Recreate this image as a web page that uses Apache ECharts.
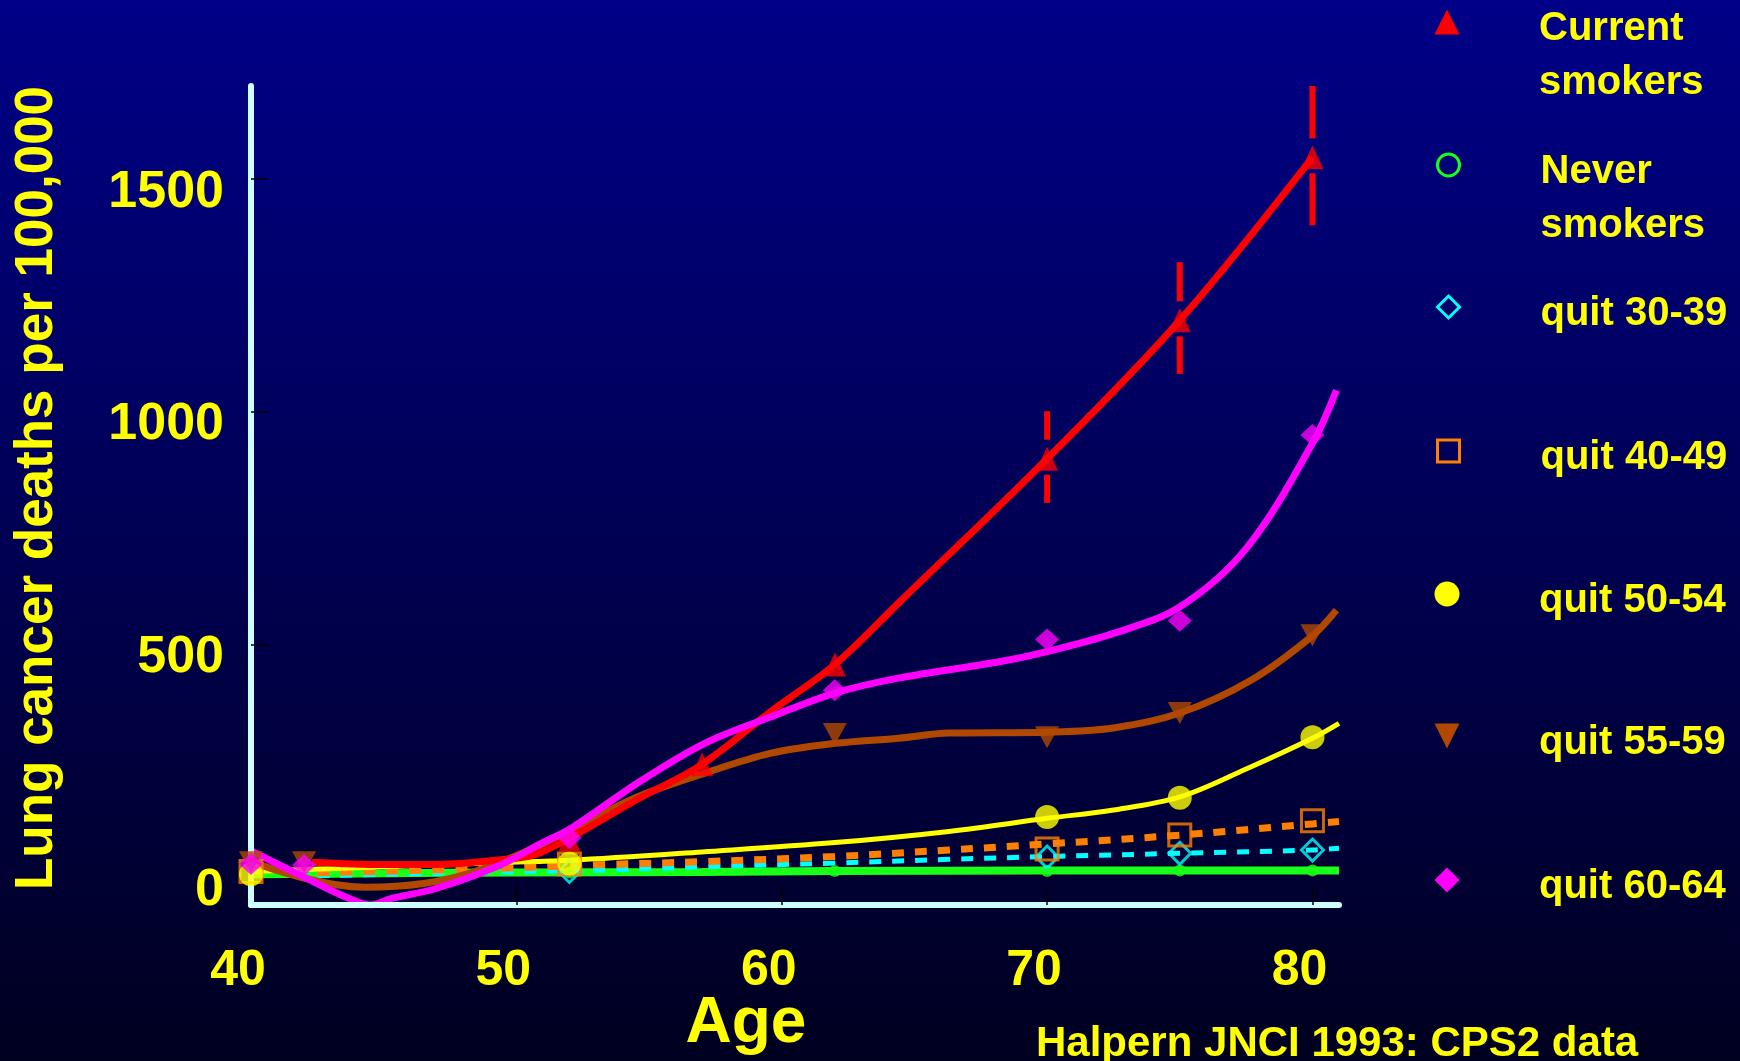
<!DOCTYPE html>
<html>
<head>
<meta charset="utf-8">
<title>Lung cancer deaths per 100,000 by age</title>
<script src="https://cdn.jsdelivr.net/npm/echarts@6.0.0/dist/echarts.min.js"></script>
<style>
    html, body { margin: 0; padding: 0; background: #000040; }
    #main { width: 1740px; height: 1061px; }
</style>
</head>
<body>
<div id="main"></div>
<script>
// axis ticks
const ageTicks = [40, 50, 60, 70, 80];
const rateTicks = [0, 500, 1000, 1500];

const groupNames = ['Current\nsmokers', 'Never\nsmokers', 'quit 30-39', 'quit 40-49', 'quit 50-54', 'quit 55-59', 'quit 60-64'];

// observed rates (markers)
const currentAges = [52, 57, 62, 70, 75, 80];
const currentRates = [82, 244, 458, 900, 1197, 1547];
const neverAges = [52, 62, 70, 75, 80];
const neverRates = [12, 15, 15, 16, 16];
const quit3039Ages = [52, 70, 75, 80];
const quit3039Rates = [14, 45, 53, 60];
const quit4049Ages = [40, 52, 70, 75, 80];
const quit4049Rates = [14, 30, 62, 92, 123];
const quit5054Ages = [40, 52, 70, 75, 80];
const quit5054Rates = [8, 31, 131, 172, 302];
const quit5559Ages = [40, 42, 62, 70, 75, 80];
const quit5559Rates = [34, 34, 309, 302, 354, 521];
const quit6064Ages = [40, 42, 52, 62, 70, 75, 80];
const quit6064Rates = [30, 28, 86, 403, 512, 552, 951];

// error bars, current smokers
const errAges = [70, 75, 80];
const errLow = [805, 1082, 1401];
const errHigh = [1002, 1322, 1700];

// fitted curves
const currentFitAges = [42.3, 45, 47, 49.4, 50.9, 54.6, 57, 59.6, 62, 64.4, 70, 75, 80];
const currentFitRates = [34, 29, 29, 39, 54, 170, 244, 358, 458, 590, 900, 1197, 1547];
const neverFitAges = [40, 45, 50, 57, 62, 70, 81];
const neverFitRates = [8, 10, 12, 13, 15, 16, 16];
const quit3039FitAges = [42.5, 49.4, 53.4, 57, 62, 66.3, 70, 75, 80, 81];
const quit3039FitRates = [5, 13, 17, 24, 32, 40, 46, 53, 60, 64];
const quit4049FitAges = [42.5, 49.4, 53.4, 57, 62, 66.3, 70, 75, 80, 81];
const quit4049FitRates = [11, 21, 29, 35, 46, 60, 73, 92, 116, 121];
const quit5054FitAges = [40, 42, 45, 49.4, 52, 57, 62, 66.3, 70, 72.5, 75, 77.5, 80, 81];
const quit5054FitRates = [14, 18, 24, 33, 38, 56, 76, 100, 128, 146, 174, 234, 300, 332];
const quit5559FitAges = [40, 42, 44.3, 46.5, 48.5, 50.5, 52.1, 54.6, 57.1, 59.6, 62, 64.4, 66.3, 70, 72.5, 75, 77.7, 80, 80.9];
const quit5559FitRates = [35, 0, -20, -12, 15, 60, 105, 175, 225, 268, 289, 300, 311, 313, 322, 354, 425, 520, 575];
const quit6064FitAges = [40, 42, 43.7, 44.5, 45.3, 47, 49.4, 50.9, 52.1, 54.6, 57.1, 59.6, 62, 64.4, 68.2, 70, 72.5, 75, 77.5, 80, 80.9];
const quit6064FitRates = [58, 2, -44, -58, -44, -22, 28, 73, 108, 205, 289, 346, 397, 429, 464, 486, 525, 582, 707, 933, 1047];

const markerAges = [currentAges, neverAges, quit3039Ages, quit4049Ages, quit5054Ages, quit5559Ages, quit6064Ages];
const markerRates = [currentRates, neverRates, quit3039Rates, quit4049Rates, quit5054Rates, quit5559Rates, quit6064Rates];
const fitAges = [currentFitAges, neverFitAges, quit3039FitAges, quit4049FitAges, quit5054FitAges, quit5559FitAges, quit6064FitAges];
const fitRates = [currentFitRates, neverFitRates, quit3039FitRates, quit4049FitRates, quit5054FitRates, quit5559FitRates, quit6064FitRates];

const yellow = '#ffff00';
const font = 'Liberation Sans, Arial, sans-serif';

const groupStyles = [
    { color: '#ff0000', width: 7, dash: 'solid', symbol: 'triangle', size: [22, 24], icon: 'triangle' },
    { color: '#18ff18', width: 8, dash: 'solid', symbol: 'circle', size: 12, icon: 'circle', hollowIcon: true },
    { color: '#00ffff', width: 5, dash: [12, 11], symbol: 'diamond', size: [22, 22], hollow: true, icon: 'diamond', hollowIcon: true },
    { color: '#ff8000', width: 7, dash: [12, 11], symbol: 'rect', size: [22, 22], hollow: true, icon: 'rect', hollowIcon: true },
    { color: '#ffff00', width: 5, dash: 'solid', symbol: 'circle', size: 24, icon: 'circle' },
    { color: '#b04800', width: 7, dash: 'solid', symbol: 'triangle', size: [24, 22], rotate: 180, icon: 'path://M0,0L20,0L10,20Z' },
    { color: '#ff00ff', width: 7, dash: 'solid', symbol: 'diamond', size: [24, 22], icon: 'diamond' }
];

// drawing order of the curves, bottom to top
const drawOrder = [1, 2, 3, 4, 5, 0, 6];

// legend rows
const legendIconY = [22, 165, 307, 451, 594, 736, 880];
const legendIconX = 1447;
const legendTextX = 1539;
const legendLineHeight = 54;

function zip (xs, ys) {
    return xs.map(function (x, i) {
        return [x, ys[i]];
    });
}

let series = [];
drawOrder.forEach(function (i) {
    let st = groupStyles[i];
    series.push({
        type: 'line',
        name: groupNames[i],
        data: zip(fitAges[i], fitRates[i]),
        smooth: 0.35,
        symbol: 'none',
        z: 2,
        silent: true,
        lineStyle: { color: st.color, width: st.width, type: st.dash, cap: 'butt' },
        itemStyle: { color: st.color }
    });
});

series.push({
    type: 'custom',
    name: groupNames[0],
    z: 4,
    encode: { x: 0, y: [1, 3] },
    data: errAges.map(function (a, i) {
        return [a, errLow[i], currentRates[currentAges.indexOf(a)], errHigh[i]];
    }),
    renderItem: function (params, api) {
        let mid = api.coord([api.value(0), api.value(2)]);
        let lo = api.coord([api.value(0), api.value(1)]);
        let hi = api.coord([api.value(0), api.value(3)]);
        let style = { stroke: '#ff0000', lineWidth: 6 };
        return {
            type: 'group',
            children: [
                { type: 'line', shape: { x1: mid[0], y1: hi[1], x2: mid[0], y2: mid[1] - 19 }, style: style },
                { type: 'line', shape: { x1: mid[0], y1: mid[1] + 16, x2: mid[0], y2: lo[1] }, style: style }
            ]
        };
    }
});

drawOrder.forEach(function (i) {
    let st = groupStyles[i];
    series.push({
        type: 'scatter',
        name: groupNames[i],
        data: zip(markerAges[i], markerRates[i]),
        symbol: st.symbol,
        symbolSize: st.size,
        symbolRotate: st.rotate || 0,
        clip: false,
        z: 4,
        itemStyle: {
            color: st.hollow ? 'rgba(0,0,0,0)' : st.color,
            borderColor: st.color,
            borderWidth: st.hollow ? 3 : 0
        }
    });
});

// rich text so the top padding pushes the words below the icon
let legendText = { color: yellow, fontSize: 40, fontWeight: 'bold', fontFamily: font, lineHeight: legendLineHeight };

let legends = groupNames.map(function (name, i) {
    let st = groupStyles[i];
    let lines = name.split('\n').length;
    let iconSize = st.hollowIcon ? 22 : 25;
    let padTop = lines === 1 ? 13 : 67;
    let boxHeight = lines * legendLineHeight + padTop;
    return {
        data: [{
            name: name,
            icon: st.icon,
            itemStyle: {
                color: st.hollowIcon ? 'rgba(0,0,0,0)' : st.color,
                borderColor: st.color,
                borderWidth: st.hollowIcon ? 3 : 0
            }
        }],
        orient: 'vertical',
        align: 'left',
        left: legendIconX - iconSize / 2,
        top: legendIconY[i] - boxHeight / 2,
        padding: 0,
        itemWidth: iconSize,
        itemHeight: iconSize,
        formatter: function (n) {
            return n.split('\n').map(function (s) {
                return '{t|' + s + '}';
            }).join('\n');
        },
        textStyle: Object.assign({}, legendText, {
            padding: [padTop, 0, 0, legendTextX - (legendIconX + iconSize / 2) - 5],
            rich: { t: legendText }
        })
    };
});

let myChart = echarts.init(document.getElementById('main'));
myChart.setOption({
    animation: false,
    backgroundColor: {
        type: 'linear', x: 0, y: 0, x2: 0, y2: 1,
        colorStops: [{ offset: 0, color: '#000088' }, { offset: 1, color: '#000020' }]
    },
    title: {
        text: 'Halpern JNCI 1993: CPS2 data',
        left: 1036,
        top: 1023,
        padding: 0,
        textStyle: { color: yellow, fontSize: 42, fontWeight: 'bold', fontFamily: font, lineHeight: 42 }
    },
    legend: legends,
    grid: { left: 251, top: 86, width: 1088, height: 819, containLabel: false, outerBoundsMode: 'none' },
    xAxis: {
        type: 'value',
        min: 40,
        max: 81,
        z: 3,
        name: 'Age',
        nameLocation: 'middle',
        nameGap: 87,
        nameMoveOverlap: false,
        nameTextStyle: { color: yellow, fontSize: 64, fontWeight: 'bold', fontFamily: font, lineHeight: 64, padding: [0, 98, 0, 0] },
        axisLine: { onZero: false, lineStyle: { color: '#ccffff', width: 6 } },
        axisTick: { inside: true, length: 17, customValues: [50, 60, 70, 80], lineStyle: { color: '#000000', width: 1.5 } },
        axisLabel: {
            customValues: ageTicks,
            margin: 41,
            color: yellow,
            fontSize: 50,
            fontWeight: 'bold',
            fontFamily: font,
            lineHeight: 50,
            padding: [0, 26, 0, 0]
        },
        splitLine: { show: false }
    },
    yAxis: {
        type: 'value',
        min: -58,
        max: 1700,
        z: 3,
        name: 'Lung cancer deaths per 100,000',
        nameLocation: 'middle',
        nameRotate: 90,
        nameGap: 187,
        nameMoveOverlap: false,
        nameTextStyle: { color: yellow, fontSize: 53, fontWeight: 'bold', fontFamily: font, lineHeight: 53, padding: [0, 0, 0, 15] },
        axisLine: { onZero: false, lineStyle: { color: '#ccffff', width: 6 } },
        axisTick: { inside: true, length: 17, customValues: [500, 1000, 1500], lineStyle: { color: '#000000', width: 1.5 } },
        axisLabel: {
            customValues: rateTicks,
            formatter: function (v) {
                return String(v);
            },
            margin: 27,
            color: yellow,
            fontSize: 52,
            fontWeight: 'bold',
            fontFamily: font,
            verticalAlign: 'top',
            lineHeight: 26
        },
        splitLine: { show: false }
    },
    series: series
});
</script>
</body>
</html>
